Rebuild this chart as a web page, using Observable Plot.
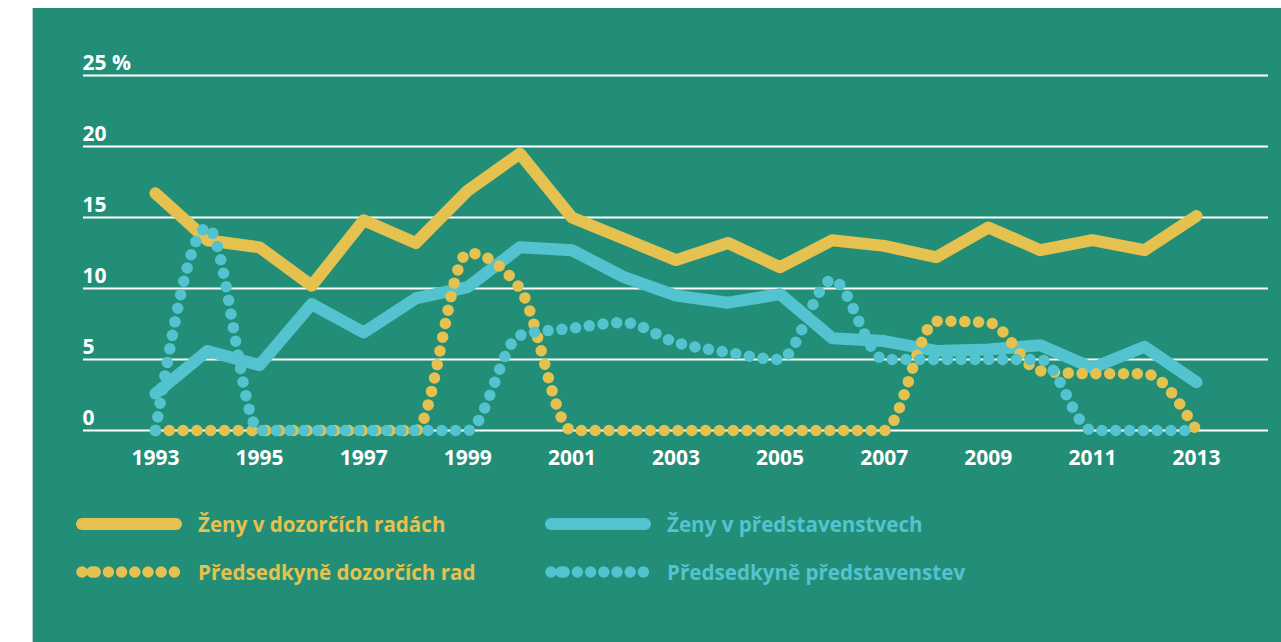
<!DOCTYPE html>
<html><head><meta charset="utf-8">
<script src="https://cdn.jsdelivr.net/npm/d3@7"></script>
<script src="https://cdn.jsdelivr.net/npm/@observablehq/plot@0.6"></script>
<style>
html,body{margin:0;padding:0;background:#fff;}
body{width:1281px;height:642px;overflow:hidden;position:relative;font-family:"Open Sans",sans-serif;}
#panel{position:absolute;left:32px;top:8px;right:0;bottom:0;background:#228e77;border-left:1px solid #b8d3cc;}
#chart{position:absolute;left:0;top:0;}
.item{position:absolute;display:flex;align-items:center;font-weight:700;font-size:20.6px;white-space:nowrap;}
.item svg{margin-right:16px;}
</style></head><body>
<div id="panel"></div>
<div id="chart"></div>
<div id="legend"></div>
<script>
const years = [1993,1994,1995,1996,1997,1998,1999,2000,2001,2002,2003,2004,2005,2006,2007,2008,2009,2010,2011,2012,2013];
const zenyDozorci = [16.7,13.4,12.9,10.2,14.8,13.2,16.9,19.5,15.0,13.5,12.0,13.2,11.5,13.4,13.0,12.2,14.3,12.7,13.4,12.7,15.1];
const zenyPredstav = [2.6,5.6,4.6,8.9,6.9,9.3,10.1,12.9,12.7,10.8,9.5,9.0,9.6,6.5,6.3,5.6,5.7,6.0,4.4,5.9,3.4];
const predsedkyneDozorci = [0,0,0,0,0,0,12.5,10.0,0,0,0,0,0,0,0,7.7,7.6,4.2,4.0,4.0,0];
const predsedkynePredstav = [0,14.3,0,0,0,0,0,6.7,7.2,7.6,6.2,5.5,5.0,10.6,5.0,5.0,5.0,5.0,0,0,0];
const xLabels = [1993,1995,1997,1999,2001,2003,2005,2007,2009,2011,2013];
const yTicks = [0,5,10,15,20,25];
const yLabels = ["0","5","10","15","20","25 %"];
const seriesNames = ["Ženy v dozorčích radách","Ženy v představenstvech","Předsedkyně dozorčích rad","Předsedkyně představenstev"];

const YELLOW = "#e5c14f", CYAN = "#53c3cf";
const toRows = vals => years.map((y,i)=>({year:y, value:vals[i]}));
const xDomain = [1993 - 1.383, 2013 + 1.383];

const solid = {strokeWidth:12, strokeLinecap:"round", strokeLinejoin:"round"};
const dotted = {strokeWidth:11.5, strokeLinecap:"round", strokeDasharray:"0 13.8", curve:"monotone-x"};

const chart = Plot.plot({
  width:1281, height:480,
  marginLeft:83, marginRight:13, marginTop:75, marginBottom:50,
  style:{background:"transparent", overflow:"visible"},
  x:{domain:xDomain, axis:null},
  y:{domain:[0,25], axis:null},
  marks:[
    Plot.ruleY(yTicks, {stroke:"white", strokeWidth:2}),
    Plot.text(yTicks, {x:xDomain[0], y:d=>d, text:(d,i)=>yLabels[i], textAnchor:"start", lineAnchor:"bottom", dy:-6, dx:-1, fill:"white", fontSize:21, fontWeight:700, fontFamily:"Open Sans"}),
    Plot.text(xLabels, {x:d=>d, y:0, text:d=>String(d), dy:27.5, fill:"white", fontSize:21, fontWeight:700, fontFamily:"Open Sans"}),
    Plot.line(toRows(zenyDozorci), {x:"year", y:"value", ...solid, stroke:YELLOW}),
    Plot.line(toRows(zenyPredstav), {x:"year", y:"value", ...solid, stroke:CYAN}),
    Plot.line(toRows(predsedkyneDozorci), {x:"year", y:"value", ...dotted, stroke:YELLOW}),
    Plot.line(toRows(predsedkynePredstav), {x:"year", y:"value", ...dotted, stroke:CYAN})
  ]
});
document.getElementById("chart").appendChild(chart);

// legend
const legend = d3.select("#legend");
const items = [
  {name:seriesNames[0], color:YELLOW, dotted:false, left:76, top:525},
  {name:seriesNames[2], color:YELLOW, dotted:true, left:76, top:573},
  {name:seriesNames[1], color:CYAN, dotted:false, left:545, top:525},
  {name:seriesNames[3], color:CYAN, dotted:true, left:545, top:573}
];
items.forEach(it=>{
  const div = legend.append("div").attr("class","item")
    .style("left", it.left+"px").style("top", (it.top-15)+"px").style("height","28px").style("color", it.color);
  const svg = div.append("svg").attr("width",106).attr("height",14);
  if (it.dotted) {
    svg.append("circle").attr("cx",16).attr("cy",7).attr("r",5.75).attr("fill",it.color);
    svg.append("line").attr("x1",6).attr("x2",99.5).attr("y1",7).attr("y2",7)
      .attr("stroke", it.color).attr("stroke-width", 11.5)
      .attr("stroke-linecap","round").attr("stroke-dasharray","0 13.2");
  } else {
    svg.append("line").attr("x1",6).attr("x2",100).attr("y1",7).attr("y2",7)
      .attr("stroke", it.color).attr("stroke-width", 12).attr("stroke-linecap","round");
  }
  div.append("span").text(it.name);
});
</script>
</body></html>
